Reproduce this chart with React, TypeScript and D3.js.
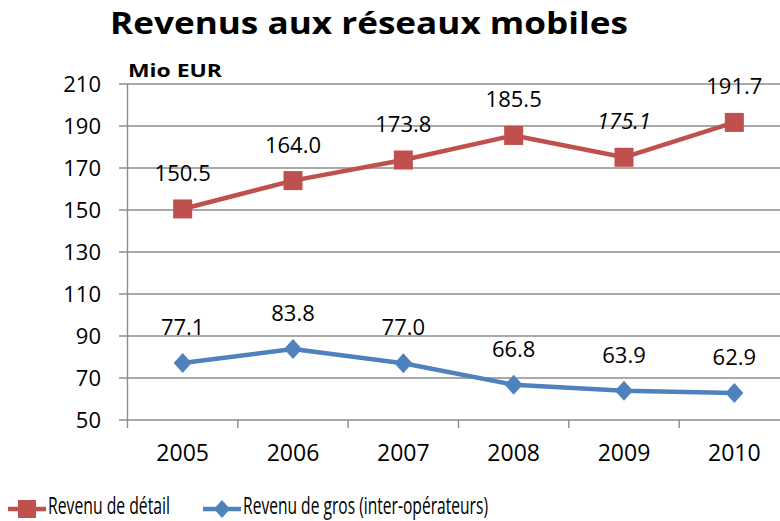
import React, { useEffect, useRef } from 'react';
import * as d3 from 'd3';

const years = ['2005', '2006', '2007', '2008', '2009', '2010'];
const retail = [150.5, 164.0, 173.8, 185.5, 175.1, 191.7];
const wholesale = [77.1, 83.8, 77.0, 66.8, 63.9, 62.9];
const yTicks = [50, 70, 90, 110, 130, 150, 170, 190, 210];
const seriesNames = ['Revenu de détail', 'Revenu de gros (inter-opérateurs)'];

const RED = '#C0504D';
const BLUE = '#4F81BD';
const GRID = '#8C8C8C';
const FONT = "'Open Sans', Roboto, sans-serif";

export default function App() {
  const ref = useRef<SVGSVGElement>(null);

  useEffect(() => {
    const svg = d3.select(ref.current);
    svg.selectAll('*').remove();

    const x = d3.scaleBand<string>().domain(years).range([127.5, 789.5]);
    const y = d3.scaleLinear().domain([50, 210]).range([420, 84]);
    const cx = (yr: string) => (x(yr) as number) + x.bandwidth() / 2;

    // title
    svg.append('text')
      .attr('x', 110).attr('y', 34)
      .attr('font-family', FONT)
      .attr('font-weight', 'bold')
      .attr('font-size', 31)
      .attr('textLength', 518)
      .attr('lengthAdjust', 'spacingAndGlyphs')
      .text('Revenus aux réseaux mobiles');

    svg.append('text')
      .attr('x', 128).attr('y', 77)
      .attr('font-family', FONT)
      .attr('font-weight', 'bold')
      .attr('font-size', 18)
      .attr('textLength', 94)
      .attr('lengthAdjust', 'spacingAndGlyphs')
      .text('Mio EUR');

    // grid + y labels
    const grid = svg.append('g');
    yTicks.forEach(t => {
      grid.append('line')
        .attr('x1', 119).attr('x2', 780)
        .attr('y1', y(t)).attr('y2', y(t))
        .attr('stroke', GRID).attr('stroke-width', 1.4);
      grid.append('text')
        .attr('x', 101).attr('y', y(t))
        .attr('dy', '0.36em')
        .attr('text-anchor', 'end')
        .attr('font-family', FONT)
        .attr('font-size', 22)
        .text(t);
    });

    // y axis line
    svg.append('line')
      .attr('x1', 127.5).attr('x2', 127.5)
      .attr('y1', y(210)).attr('y2', y(50))
      .attr('stroke', GRID).attr('stroke-width', 1.4);

    // x ticks at band boundaries
    years.forEach(yr => {
      const bx = x(yr) as number;
      svg.append('line')
        .attr('x1', bx).attr('x2', bx)
        .attr('y1', 420).attr('y2', 428)
        .attr('stroke', GRID).attr('stroke-width', 1.4);
      svg.append('text')
        .attr('x', cx(yr)).attr('y', 453)
        .attr('dy', '0.36em')
        .attr('text-anchor', 'middle')
        .attr('font-family', FONT)
        .attr('font-size', 23)
        .text(yr);
    });

    const line = d3.line<number>()
      .x((_, i) => cx(years[i]))
      .y(d => y(d));

    // wholesale series
    svg.append('path')
      .datum(wholesale)
      .attr('d', line)
      .attr('fill', 'none')
      .attr('stroke', BLUE)
      .attr('stroke-width', 4.5)
      .attr('stroke-linejoin', 'round');
    svg.selectAll('.dia')
      .data(wholesale)
      .enter()
      .append('path')
      .attr('d', 'M0,-10L9,0L0,10L-9,0Z')
      .attr('transform', (d, i) => `translate(${cx(years[i])},${y(d)})`)
      .attr('fill', BLUE);

    // retail series
    svg.append('path')
      .datum(retail)
      .attr('d', line)
      .attr('fill', 'none')
      .attr('stroke', RED)
      .attr('stroke-width', 4.5)
      .attr('stroke-linejoin', 'round');
    svg.selectAll('.sq')
      .data(retail)
      .enter()
      .append('rect')
      .attr('x', (d, i) => cx(years[i]) - 9.5)
      .attr('y', d => y(d) - 9.5)
      .attr('width', 19).attr('height', 19)
      .attr('fill', RED);

    // value labels
    const labels = (vals: number[], italicIdx: number) => {
      vals.forEach((v, i) => {
        svg.append('text')
          .attr('x', cx(years[i])).attr('y', y(v) - 36)
          .attr('dy', '0.36em')
          .attr('text-anchor', 'middle')
          .attr('font-family', FONT)
          .attr('font-size', 22)
          .attr('font-style', i === italicIdx ? 'italic' : 'normal')
          .text(v.toFixed(1));
      });
    };
    labels(retail, 4);
    labels(wholesale, -1);

    // legend
    const leg = svg.append('g');
    leg.append('line')
      .attr('x1', 8).attr('x2', 46).attr('y1', 509).attr('y2', 509)
      .attr('stroke', RED).attr('stroke-width', 4.5);
    leg.append('rect')
      .attr('x', 18).attr('y', 500).attr('width', 18).attr('height', 18)
      .attr('fill', RED);
    leg.append('line')
      .attr('x1', 203).attr('x2', 241).attr('y1', 509).attr('y2', 509)
      .attr('stroke', BLUE).attr('stroke-width', 4.5);
    leg.append('path')
      .attr('d', 'M0,-9L8,0L0,9L-8,0Z')
      .attr('transform', 'translate(222,509)')
      .attr('fill', BLUE);
    const legW = [122, 245];
    [48, 243].forEach((lx, i) => {
      leg.append('text')
        .attr('x', lx).attr('y', 514)
        .attr('font-family', FONT)
        .attr('font-size', 23)
        .attr('textLength', legW[i])
        .attr('lengthAdjust', 'spacingAndGlyphs')
        .text(seriesNames[i]);
    });
  }, []);

  return (
    <svg
      ref={ref}
      width={780}
      height={521}
      style={{ position: 'absolute', left: 0, top: 0, background: '#fff' }}
    />
  );
}
